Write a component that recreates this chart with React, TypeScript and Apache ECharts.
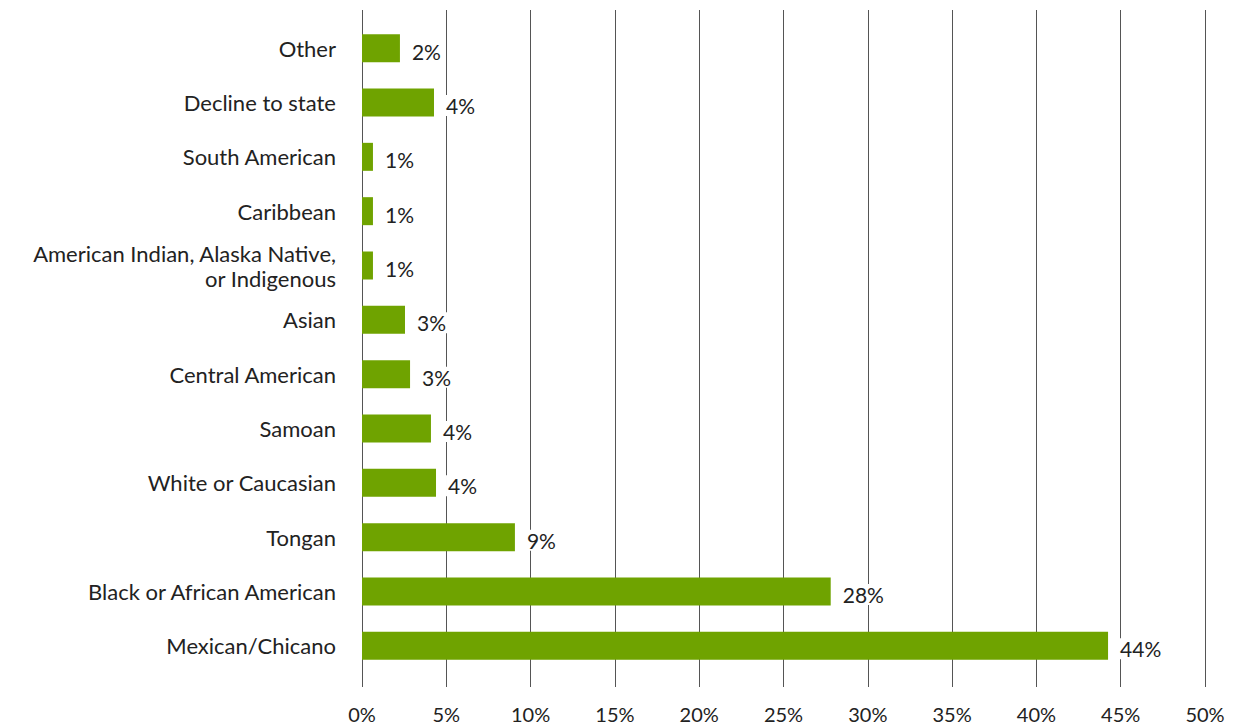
import React, { useEffect, useRef } from "react";
import * as echarts from "echarts";

const categories = [
  "Mexican/Chicano",
  "Black or African American",
  "Tongan",
  "White or Caucasian",
  "Samoan",
  "Central American",
  "Asian",
  "American Indian, Alaska Native,\nor Indigenous",
  "Caribbean",
  "South American",
  "Decline to state",
  "Other",
];
const values = [44.25, 27.8, 9.07, 4.39, 4.09, 2.85, 2.55, 0.65, 0.65, 0.65, 4.27, 2.25];
const valueLabels = ["44%", "28%", "9%", "4%", "4%", "3%", "3%", "1%", "1%", "1%", "4%", "2%"];
const xTicks = [0, 5, 10, 15, 20, 25, 30, 35, 40, 45, 50];

const FONT = "Lato, 'Noto Sans', sans-serif";
const GREEN = "#6fa300";

export default function App() {
  const ref = useRef<HTMLDivElement>(null);
  useEffect(() => {
    if (!ref.current) return;
    const chart = echarts.init(ref.current, undefined, { renderer: "svg" });
    chart.setOption({
      animation: false,
      backgroundColor: "#ffffff",
      grid: [
        { left: 362, right: 31, top: 10, bottom: 41, containLabel: false },
        { left: 362, right: 31, top: 21, bottom: 55, containLabel: false },
      ],
      xAxis: [
        {
          type: "value",
          gridIndex: 0,
          min: xTicks[0],
          max: xTicks[xTicks.length - 1],
          interval: 5,
          axisLine: { show: false },
          axisTick: { show: false },
          splitLine: { show: true, lineStyle: { color: "#555555", width: 1 } },
          axisLabel: {
            formatter: (v: number) => `${v}%`,
            fontFamily: FONT,
            fontSize: 20,
            color: "#222222",
            margin: 17,
          },
        },
        {
          type: "value",
          gridIndex: 1,
          min: xTicks[0],
          max: xTicks[xTicks.length - 1],
          interval: 5,
          show: false,
          splitLine: { show: false },
        },
      ],
      yAxis: [
        {
          type: "category",
          gridIndex: 0,
          data: categories,
          show: false,
        },
        {
          type: "category",
          gridIndex: 1,
          data: categories,
          axisLine: { show: false },
          axisTick: { show: false },
          splitLine: { show: false },
          axisLabel: {
            fontFamily: FONT,
            fontSize: 22,
            color: "#222222",
            margin: 26,
            lineHeight: 25,
            align: "right",
          },
        },
      ],
      series: [
        {
          type: "bar",
          xAxisIndex: 1,
          yAxisIndex: 1,
          data: values,
          barWidth: 28,
          itemStyle: { color: GREEN },
          label: {
            show: true,
            position: "right",
            distance: 10,
            offset: [0, 3],
            formatter: (p: any) => valueLabels[p.dataIndex],
            fontFamily: FONT,
            fontSize: 21,
            color: "#222222",
            backgroundColor: "#ffffff",
            padding: [0, 2],
          },
        },
      ],
    });
    return () => chart.dispose();
  }, []);
  return (
    <div
      ref={ref}
      style={{ position: "absolute", left: 0, top: 0, width: 1236, height: 728 }}
    />
  );
}
